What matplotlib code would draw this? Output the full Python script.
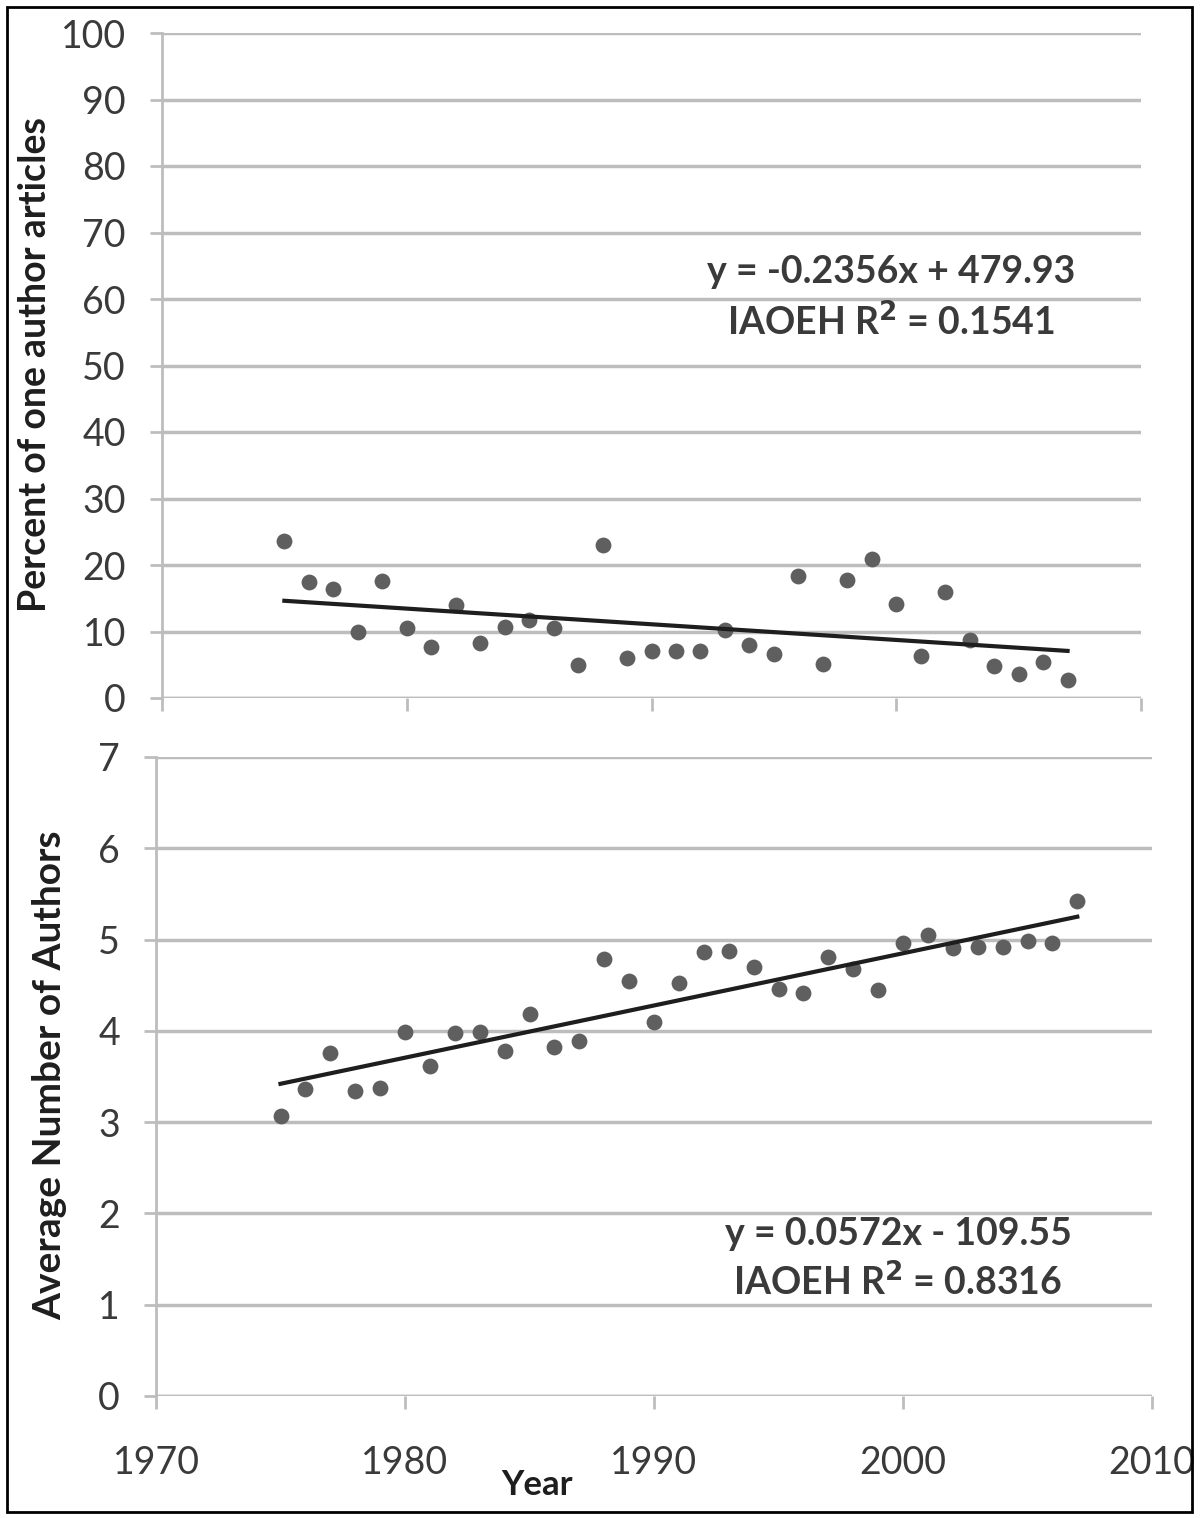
import matplotlib
matplotlib.use("Agg")
import matplotlib.pyplot as plt
import numpy as np
from matplotlib.patches import Rectangle

plt.rcParams['font.family'] = ['Lato', 'DejaVu Sans']

years = list(range(1975, 2008))
pct_one_author = [23.6, 17.4, 16.4, 9.9, 17.6, 10.5, 7.7, 14.0, 8.3, 10.7, 11.7,
                  10.5, 5.0, 23.0, 6.0, 7.1, 7.1, 7.1, 10.2, 8.0, 6.6, 18.3, 5.1,
                  17.7, 20.9, 14.1, 6.3, 15.9, 8.7, 4.8, 3.6, 5.4, 2.7]
avg_authors = [3.07, 3.36, 3.76, 3.34, 3.37, 3.99, 3.61, 3.98, 3.99, 3.78, 4.19,
               3.82, 3.89, 4.79, 4.55, 4.10, 4.52, 4.86, 4.87, 4.70, 4.46, 4.41,
               4.81, 4.68, 4.45, 4.96, 5.05, 4.91, 4.92, 4.92, 4.98, 4.96, 5.42]
fit_top = (-0.2356, 479.93)
fit_bot = (0.0572, -109.55)
x_ticks = [1970, 1980, 1990, 2000, 2010]
top_yticks = list(range(0, 101, 10))
bot_yticks = list(range(0, 8))

W, H = 1200, 1518
fig = plt.figure(figsize=(W / 100, H / 100), dpi=100)

grid_c = '#bdbdbd'
pt_c = '#5f5f5f'
txt_c = '#3a3a3a'

def style(ax):
    for s in ['top', 'right', 'bottom']:
        ax.spines[s].set_visible(False)
    ax.spines['left'].set_color(grid_c)
    ax.spines['left'].set_linewidth(2)
    ax.yaxis.grid(True, color=grid_c, linewidth=2.5)
    ax.set_axisbelow(True)
    ax.tick_params(axis='both', colors=grid_c, width=2, length=9, labelcolor=txt_c,
                   labelsize=27)
    ax.tick_params(axis='y', pad=17)
    ax.set_xlim(1970, 2010)
    ax.set_xticks(x_ticks)

ax1 = fig.add_axes([162 / W, 1 - 698 / H, (1141 - 162) / W, (698 - 33) / H])
style(ax1)
ax1.set_ylim(0, 100)
ax1.set_yticks(top_yticks)
ax1.set_xticklabels([])
ax1.axhline(0, color=grid_c, linewidth=2.5, zorder=1)
ax1.scatter(years, pct_one_author, s=130, color=pt_c, zorder=3, linewidths=0)
xf = np.array([years[0], years[-1]])
ax1.plot(xf, fit_top[0] * xf + fit_top[1], color='#1e1e1e', linewidth=3, zorder=4)
ax1.text(1999.8, 64, 'y = -0.2356x + 479.93', ha='center', va='center',
         fontsize=27, fontweight='bold', color=txt_c)
ax1.text(1999.8, 56.5, 'IAOEH R$^{\\mathbf{2}}$ = 0.1541', ha='center', va='center',
         fontsize=27, fontweight='bold', color=txt_c)

ax2 = fig.add_axes([156 / W, 1 - 1396 / H, (1152 - 156) / W, (1396 - 757) / H])
style(ax2)
ax2.set_ylim(0, 7)
ax2.set_yticks(bot_yticks)
ax2.axhline(0, color=grid_c, linewidth=2.5, zorder=1)
ax2.scatter(years, avg_authors, s=130, color=pt_c, zorder=3, linewidths=0)
ax2.plot(xf, fit_bot[0] * xf + fit_bot[1], color='#1e1e1e', linewidth=3, zorder=4)
ax2.text(1999.8, 1.77, 'y = 0.0572x - 109.55', ha='center', va='center',
         fontsize=27, fontweight='bold', color=txt_c)
ax2.text(1999.8, 1.25, 'IAOEH R$^{\\mathbf{2}}$ = 0.8316', ha='center', va='center',
         fontsize=27, fontweight='bold', color=txt_c)
ax2.tick_params(axis='x', pad=26)

fig.text(35 / W, 1 - 365 / H, 'Percent of one author articles', rotation=90,
         ha='center', va='center', fontsize=27, fontweight='bold', color='#1e1e1e')
fig.text(50 / W, 1 - 1075 / H, 'Average Number of Authors', rotation=90,
         ha='center', va='center', fontsize=28, fontweight='bold', color='#1e1e1e')
fig.text(537 / W, 1 - 1485 / H, 'Year', ha='center', va='center',
         fontsize=25, fontweight='bold', color='#1e1e1e')

fig.patches.append(Rectangle((7 / W, 6 / H), 1185 / W, 1505 / H, transform=fig.transFigure,
                             fill=False, edgecolor='black', linewidth=2))

fig.savefig('out.png', dpi=100)
